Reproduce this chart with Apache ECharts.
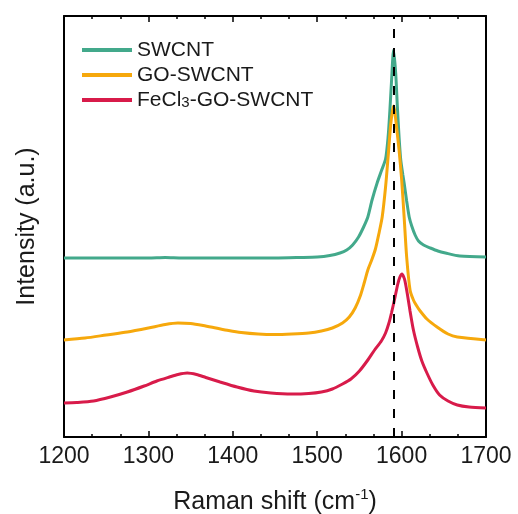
<!DOCTYPE html>
<html>
<head>
<meta charset="utf-8">
<title>Raman spectra</title>
<script src="https://cdn.jsdelivr.net/npm/echarts@6/dist/echarts.min.js"></script>
<style>
  html, body { margin: 0; padding: 0; background: #ffffff; }
  #chart { width: 518px; height: 514px; }
</style>
</head>
<body>
<div id="chart"></div>
<script>
// Raman spectra (offset for clarity), intensity in arbitrary units
const xTicks = [1200, 1300, 1400, 1500, 1600, 1700];

const swcntShift = [1200, 1250, 1300, 1320, 1340, 1400, 1450, 1480, 1500, 1515, 1527, 1535, 1542, 1549, 1555, 1560, 1565, 1571, 1576, 1581, 1584, 1586, 1588, 1590.5, 1593, 1595, 1597, 1599, 1601.5, 1603, 1606, 1609, 1612, 1616, 1620, 1626, 1634, 1643, 1652, 1669, 1700];
const swcntIntensity = [179, 179, 179, 179.5, 179, 179, 179, 179.5, 180, 181.5, 184, 187, 192, 200, 210, 220, 237, 254, 266, 278, 300, 325, 355, 387, 364, 330, 300, 277, 262, 254, 236, 220, 211, 202, 196, 192, 189, 186, 184, 181, 180];

const goShift = [1200, 1225, 1250, 1275, 1300, 1320, 1335, 1350, 1365, 1380, 1395, 1410, 1430, 1450, 1470, 1490, 1505, 1518, 1530, 1538, 1545, 1551, 1556, 1560, 1565, 1569, 1573, 1577, 1581, 1584, 1587, 1589, 1590.5, 1592, 1594, 1597, 1600, 1603, 1606, 1610, 1614, 1618, 1622, 1630, 1642, 1655, 1666, 1700];
const goIntensity = [97, 99, 102, 105, 109, 112.5, 114, 113.5, 111.5, 109, 106.5, 104.5, 103, 102.5, 103, 104, 106, 109, 114, 120, 129, 141, 155, 167, 178, 188, 203, 220, 250, 280, 312, 325, 331, 325, 310, 287, 258, 220, 180, 147, 137, 131, 126, 118, 110, 103, 100, 97];

const fegoShift = [1200, 1215, 1235, 1255, 1275, 1295, 1310, 1325, 1335, 1346, 1357, 1368, 1385, 1405, 1425, 1445, 1470, 1490, 1505, 1518, 1530, 1540, 1550, 1560, 1568, 1576, 1581, 1585, 1588, 1592, 1595.5, 1598, 1600.5, 1602.5, 1604, 1607, 1610, 1614, 1619, 1624, 1630, 1637, 1645, 1655, 1666, 1680, 1700];
const fegoIntensity = [34, 34.5, 36, 40, 45, 51, 56, 60, 62.5, 64, 62.5, 59.5, 55, 50, 46, 44, 43, 43.5, 45, 48, 53, 58, 66, 77, 87, 96, 104, 114, 124, 139, 153, 160, 163, 160, 156, 142, 126, 107, 90, 76, 64, 52, 42, 36, 32, 30, 29];

// G-band reference position of pristine SWCNT
const gBandRef = 1591;

const seriesNames = ['SWCNT', 'GO-SWCNT', 'FeCl3-GO-SWCNT'];
const seriesColors = ['#43a98b', '#f6a80c', '#d81b4a'];

function pairs(xs, ys) {
  return xs.map((x, i) => [x, ys[i]]);
}

const FONT = '"Liberation Sans", Arial, Helvetica, sans-serif';
const INK = '#1a1a1a';
const CLEAR = 'rgba(0,0,0,0)';

const chart = echarts.init(document.getElementById('chart'), null, { renderer: 'canvas' });

// Shift axis with inward major and minor ticks (bottom and top frame edges)
function shiftAxis(position, extra) {
  const axis = {
    type: 'value',
    position: position,
    min: 1200,
    max: 1700,
    interval: 100,
    axisLine: { show: true, onZero: false, lineStyle: { color: '#000', width: 2 } },
    axisTick: { show: true, inside: true, length: 6, lineStyle: { color: '#000', width: 1.5 } },
    minorTick: { show: true, splitNumber: 3, length: 3, lineStyle: { color: '#000', width: 1.5 } },
    splitLine: { show: false },
    axisLabel: { show: false }
  };
  return Object.assign(axis, extra || {});
}

// Intensity axis: frame edge only; its ticks and labels are fully transparent
function intensityAxis(position, extra) {
  const axis = {
    type: 'value',
    position: position,
    min: 0,
    max: 421,
    axisLine: { show: true, onZero: false, lineStyle: { color: '#000', width: 2 } },
    axisTick: { show: true, inside: true, length: 5, lineStyle: { color: CLEAR } },
    axisLabel: { show: true, inside: true, color: CLEAR, fontSize: 8 },
    splitLine: { show: false }
  };
  return Object.assign(axis, extra || {});
}

const lineSeries = (name, data, color) => ({
  name: name,
  type: 'line',
  data: data,
  smooth: 0.25,
  showSymbol: false,
  symbol: 'none',
  lineStyle: { color: color, width: 3 },
  itemStyle: { color: color },
  emphasis: { disabled: true }
});

const option = {
  animation: false,
  backgroundColor: '#ffffff',
  grid: { left: 64, right: 32, top: 16, bottom: 77, outerBoundsMode: 'none' },
  legend: {
    data: seriesNames,
    orient: 'vertical',
    left: 82,
    top: 39.5,
    padding: 0,
    itemGap: 4,
    itemWidth: 50,
    itemHeight: 4,
    icon: 'rect',
    selectedMode: false,
    textStyle: {
      fontFamily: FONT,
      fontSize: 21,
      color: INK,
      rich: {
        a: { fontFamily: FONT, fontSize: 21, color: INK, lineHeight: 21 },
        sub: { fontFamily: FONT, fontSize: 15, color: INK, lineHeight: 12, verticalAlign: 'bottom' }
      }
    },
    formatter: function (name) {
      if (name === 'FeCl3-GO-SWCNT') {
        return '{a|FeCl}{sub|3}{a|-GO-SWCNT}';
      }
      return '{a|' + name + '}';
    }
  },
  xAxis: [
    shiftAxis('bottom', {
      axisLabel: { show: true, fontFamily: FONT, fontSize: 23, color: INK, margin: 8,
        formatter: v => (xTicks.indexOf(v) >= 0 ? String(v) : '') },
      name: '{a|Raman shift (cm}{s|-1}{a|)}',
      nameLocation: 'middle',
      nameGap: 50,
      nameTextStyle: {
        fontFamily: FONT,
        fontSize: 25,
        color: INK,
        rich: {
          a: { fontFamily: FONT, fontSize: 25, color: INK, lineHeight: 30 },
          s: { fontFamily: FONT, fontSize: 15, color: INK, lineHeight: 16, verticalAlign: 'top' }
        }
      }
    }),
    shiftAxis('top')
  ],
  yAxis: [
    intensityAxis('left', {
      name: 'Intensity (a.u.)',
      nameLocation: 'middle',
      nameGap: 24,
      nameMoveOverlap: false,
      nameTextStyle: { fontFamily: FONT, fontSize: 25, color: INK }
    }),
    intensityAxis('right')
  ],
  series: [
    Object.assign(lineSeries(seriesNames[0], pairs(swcntShift, swcntIntensity), seriesColors[0]), {
      markLine: {
        silent: true,
        symbol: ['none', 'none'],
        label: { show: false },
        lineStyle: { color: '#000', width: 2, type: [9, 10] },
        data: [{ xAxis: gBandRef }]
      }
    }),
    lineSeries(seriesNames[1], pairs(goShift, goIntensity), seriesColors[1]),
    lineSeries(seriesNames[2], pairs(fegoShift, fegoIntensity), seriesColors[2])
  ]
};

chart.setOption(option);
</script>
</body>
</html>
